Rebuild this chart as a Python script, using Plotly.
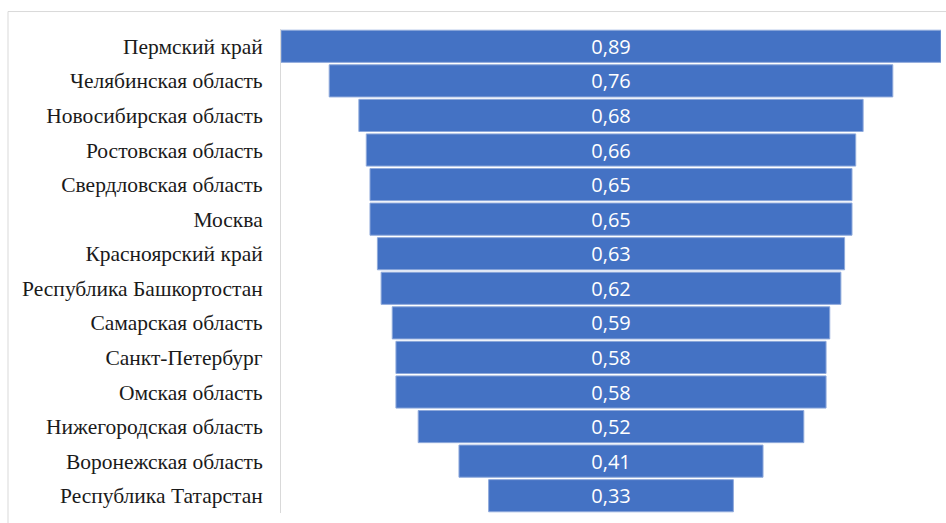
import plotly.graph_objects as go

regions = [
    "Пермский край",
    "Челябинская область",
    "Новосибирская область",
    "Ростовская область",
    "Свердловская область",
    "Москва",
    "Красноярский край",
    "Республика Башкортостан",
    "Самарская область",
    "Санкт-Петербург",
    "Омская область",
    "Нижегородская область",
    "Воронежская область",
    "Республика Татарстан",
]
values = [0.89, 0.76, 0.68, 0.66, 0.65, 0.65, 0.63, 0.62, 0.59, 0.58, 0.58, 0.52, 0.41, 0.33]

W, H = 946, 523
left, right, top, bottom = 281, 5, 28.5, 9.5
plot_w = W - left - right
plot_h = H - top - bottom

fig = go.Figure(
    go.Funnel(
        y=regions,
        x=values,
        marker=dict(color="#4472C4", line=dict(color="#8EA9DB", width=1)),
        connector=dict(visible=False),
        texttemplate="%{value:.2f}",
        textposition="inside",
        insidetextanchor="middle",
        constraintext="none",
        textfont=dict(family="Open Sans, Liberation Sans, sans-serif", size=20, color="white"),
        hoverinfo="y+x",
    )
)

# chart-area frame (only top and left edges fall inside the page)
x0 = (8 - left) / plot_w
y1 = (plot_h + top - 11) / plot_h
fig.add_shape(
    type="rect", xref="paper", yref="paper",
    x0=x0, x1=1.2, y0=-0.2, y1=y1,
    line=dict(color="#D9D9D9", width=1), layer="below",
)

half = max(values) / 2
fig.update_layout(
    width=W, height=H,
    margin=dict(l=left, r=right, t=top, b=bottom),
    paper_bgcolor="white", plot_bgcolor="white",
    separators=", ",
    funnelgap=0.07,
    showlegend=False,
    xaxis=dict(range=[-half, half], visible=False, fixedrange=True),
    yaxis=dict(
        showline=True, linecolor="#D9D9D9", linewidth=1,
        showgrid=False, zeroline=False,
        ticks="", ticklabelstandoff=13,
        tickfont=dict(family="Liberation Serif, Times New Roman, serif", size=21.5, color="#1a1a1a"),
    ),
)

fig.write_html("out.html")
